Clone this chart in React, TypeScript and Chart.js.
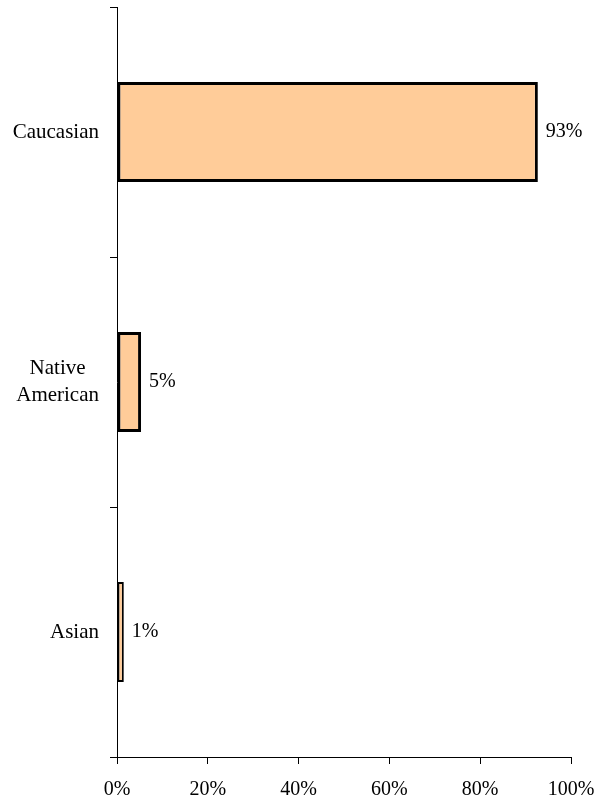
import React, { useEffect, useRef } from "react";
import { Chart, registerables } from "chart.js";

Chart.register(...registerables);

const categories: string[][] = [["Caucasian"], ["Native", "American"], ["Asian"]];
const values: number[] = [92.7, 5.3, 1.5];
const valueLabels: string[] = ["93%", "5%", "1%"];
const xTicks: number[] = [0, 20, 40, 60, 80, 100];

const FAMILY = "'Liberation Serif', 'Times New Roman', serif";

const labelPlugin = {
  id: "customLabels",
  afterDraw(chart: any) {
    const ctx = chart.ctx;
    const yScale = chart.scales.y;
    const meta = chart.getDatasetMeta(0);
    ctx.save();
    ctx.fillStyle = "#000";
    ctx.textBaseline = "middle";
    // category labels: block right-aligned, lines centered
    ctx.font = "21px " + FAMILY;
    const rightEdge = yScale.right - 18;
    const lineH = 27;
    categories.forEach((lines, i) => {
      const y = yScale.getPixelForValue(i);
      const w = Math.max(...lines.map((l) => ctx.measureText(l).width));
      const cx = rightEdge - w / 2;
      ctx.textAlign = "center";
      const y0 = y - ((lines.length - 1) * lineH) / 2;
      lines.forEach((l, k) => ctx.fillText(l, cx, y0 + k * lineH));
    });
    // value labels
    ctx.font = "20px " + FAMILY;
    ctx.textAlign = "left";
    meta.data.forEach((bar: any, i: number) => {
      ctx.fillText(valueLabels[i], bar.x + 8, bar.y);
    });
    ctx.restore();
  },
};

export default function App() {
  const ref = useRef<HTMLCanvasElement>(null);
  useEffect(() => {
    if (!ref.current) return;
    const chart = new Chart(ref.current, {
      type: "bar",
      data: {
        labels: categories.map((c) => c.join(" ")),
        datasets: [
          {
            data: values,
            backgroundColor: "#FFCC99",
            borderColor: "#000000",
            borderWidth: [3, 3, 2],
            borderSkipped: false,
            barPercentage: 0.4,
            categoryPercentage: 1,
          },
        ],
      },
      options: {
        indexAxis: "y",
        responsive: false,
        animation: false,
        layout: { padding: { top: 7, right: 24, left: 0, bottom: 0 } },
        plugins: { legend: { display: false }, tooltip: { enabled: false } },
        scales: {
          y: {
            afterFit: (s: any) => {
              s.width = 117;
              s.paddingTop = 0;
              s.paddingBottom = 0;
            },
            ticks: { display: false },
            grid: {
              drawOnChartArea: false,
              drawTicks: true,
              tickLength: 7,
              tickColor: "#000",
              color: "#000",
            },
            border: { display: true, color: "#000", width: 1 },
          },
          x: {
            min: 0,
            max: 100,
            afterFit: (s: any) => {
              s.height = 47;
              s.paddingLeft = 0;
              s.paddingRight = 0;
            },
            afterBuildTicks: (s: any) => {
              s.ticks = xTicks.map((v) => ({ value: v }));
            },
            ticks: {
              callback: (v: any) => v + "%",
              font: { family: FAMILY, size: 20 },
              color: "#000",
              padding: 14,
              maxRotation: 0,
            },
            grid: {
              drawOnChartArea: false,
              drawTicks: true,
              tickLength: 7,
              tickColor: "#000",
              color: "#000",
            },
            border: { display: true, color: "#000", width: 1 },
          },
        },
      },
      plugins: [labelPlugin],
    });
    return () => chart.destroy();
  }, []);
  return (
    <div style={{ position: "fixed", left: 0, top: 0, width: 595, height: 804, background: "#fff" }}>
      <canvas ref={ref} width={595} height={804} style={{ width: 595, height: 804 }} />
    </div>
  );
}
